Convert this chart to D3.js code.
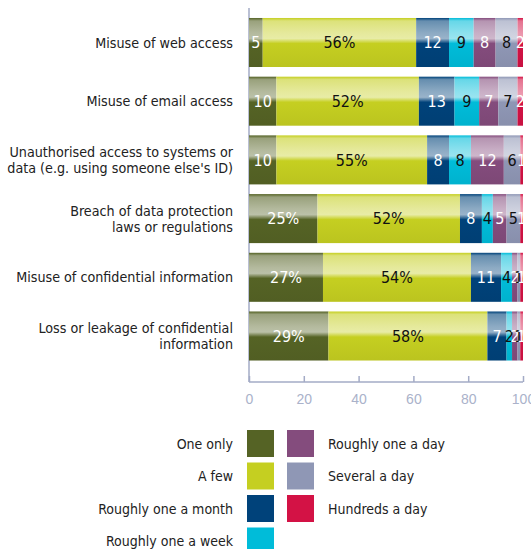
<!DOCTYPE html>
<html>
<head>
<meta charset="utf-8">
<script src="https://cdn.jsdelivr.net/npm/d3@7"></script>
<style>
  html, body { margin: 0; padding: 0; background: #fff; }
  svg { display: block; font-family: "Liberation Sans Narrow", "DejaVu Sans Condensed", "Liberation Sans", sans-serif; }
</style>
</head>
<body>
<div id="chart"></div>
<script>
/* Data */
const CATEGORIES = [
  ["Misuse of web access"],
  ["Misuse of email access"],
  ["Unauthorised access to systems or", "data (e.g. using someone else's ID)"],
  ["Breach of data protection", "laws or regulations"],
  ["Misuse of confidential information"],
  ["Loss or leakage of confidential", "information"]
]
const SERIES = ["One only", "A few", "Roughly one a month", "Roughly one a week", "Roughly one a day", "Several a day", "Hundreds a day"]
const ONE_ONLY = [5, 10, 10, 25, 27, 29]
const A_FEW = [56, 52, 55, 52, 54, 58]
const ONE_A_MONTH = [12, 13, 8, 8, 11, 7]
const ONE_A_WEEK = [9, 9, 8, 4, 4, 2]
const ONE_A_DAY = [8, 7, 12, 5, 2, 2]
const SEVERAL_A_DAY = [8, 7, 6, 5, 1, 1]
const HUNDREDS_A_DAY = [2, 2, 1, 1, 1, 1]
const X_TICKS = [0, 20, 40, 60, 80, 100]

/* Style constants */
const WIDTH = 531
const HEIGHT = 549
const X0 = 249
const X1 = 523
const AXIS_Y = 382
const COLORS = ["#556325", "#c5cf21", "#00427a", "#00bcd9", "#844c7d", "#8f97b5", "#d31245"]
const LABEL_COLORS = ["#fff", "#111", "#fff", "#111", "#fff", "#111", "#fff"]
const AXIS_COLOR = "#a3abc6"

const values = [ONE_ONLY, A_FEW, ONE_A_MONTH, ONE_A_WEEK, ONE_A_DAY, SEVERAL_A_DAY, HUNDREDS_A_DAY]
const rows = CATEGORIES.map((c, i) => {
  let row = {key: i}
  SERIES.forEach((s, j) => { row[s] = values[j][i] })
  return row
})

const svg = d3.select("#chart").append("svg")
  .attr("width", WIDTH)
  .attr("height", HEIGHT)

const x = d3.scaleLinear().domain([0, 100]).range([X0, X1])
const y = d3.scaleBand().domain(d3.range(CATEGORIES.length)).range([8.3, 370.2]).padding(0.165)

/* glossy gradients */
const defs = svg.append("defs")
COLORS.forEach((c, i) => {
  const light = d3.interpolateRgb(c, "#fff")
  const g = defs.append("linearGradient")
    .attr("id", "grad" + i)
    .attr("x1", 0).attr("y1", 0).attr("x2", 0).attr("y2", 1)
  const stops = [[0, c], [0.06, light(0.4)], [0.3, light(0.55)], [0.42, light(0.6)], [0.52, c], [1, d3.color(c).darker(0.15).toString()]]
  stops.forEach((s) => g.append("stop").attr("offset", s[0]).attr("stop-color", s[1]))
})

/* axes */
svg.append("line")
  .attr("x1", X0).attr("x2", X0)
  .attr("y1", 8).attr("y2", AXIS_Y)
  .attr("stroke", AXIS_COLOR).attr("stroke-width", 1.5)

const xAxis = d3.axisBottom(x).tickValues(X_TICKS).tickSize(-6).tickPadding(12)
const gx = svg.append("g")
  .attr("transform", "translate(0," + AXIS_Y + ")")
  .call(xAxis)
gx.select(".domain").attr("stroke", AXIS_COLOR).attr("stroke-width", 1.5).attr("d", "M" + X0 + ",0H" + X1)
gx.selectAll(".tick line").attr("stroke", AXIS_COLOR).attr("stroke-width", 1.5)
gx.selectAll(".tick text").attr("fill", "#aab2ca").attr("font-size", 14).attr("font-family", "inherit")

/* stacked bars */
const stack = d3.stack().keys(SERIES)(rows)
const layers = svg.append("g").selectAll("g")
  .data(stack)
  .join("g")
  .attr("fill", (d, i) => "url(#grad" + i + ")")

layers.selectAll("rect")
  .data((d) => d)
  .join("rect")
  .attr("x", (d) => x(d[0]))
  .attr("y", (d, i) => y(i))
  .attr("width", (d) => x(d[1]) - x(d[0]))
  .attr("height", y.bandwidth())

/* value labels */
stack.forEach((layer, j) => {
  svg.append("g").selectAll("text")
    .data(layer)
    .join("text")
    .attr("x", (d) => (x(d[0]) + x(d[1])) / 2)
    .attr("y", (d, i) => y(i) + y.bandwidth() / 2)
    .attr("dy", "0.36em")
    .attr("text-anchor", "middle")
    .attr("font-size", 16)
    .attr("fill", LABEL_COLORS[j])
    .text((d) => {
      const v = d[1] - d[0]
      return v >= 20 ? v + "%" : v
    })
})

/* category labels */
const cat = svg.append("g").selectAll("text")
  .data(CATEGORIES)
  .join("text")
  .attr("text-anchor", "end")
  .attr("font-size", 14.2)
  .attr("fill", "#222")
  .attr("x", 233)
  .attr("y", (d, i) => y(i) + y.bandwidth() / 2 - (d.length - 1) * 8)
cat.selectAll("tspan")
  .data((d) => d)
  .join("tspan")
  .attr("x", 233)
  .attr("dy", (d, k) => k === 0 ? "0.36em" : 16)
  .text((d) => d)

/* legend */
const LEG = {SIZE: 27, STEP: 32.5, TOP: 430, COL_X: [247, 287]}
const legendItems = SERIES.map((s, i) => ({name: s, color: COLORS[i], col: i < 4 ? 0 : 1, row: i < 4 ? i : i - 4}))
const leg = svg.append("g").selectAll("g")
  .data(legendItems)
  .join("g")
  .attr("transform", (d) => "translate(" + LEG.COL_X[d.col] + "," + (LEG.TOP + d.row * LEG.STEP) + ")")
leg.append("rect")
  .attr("width", LEG.SIZE).attr("height", LEG.SIZE)
  .attr("fill", (d) => d.color)
leg.append("text")
  .attr("x", (d) => d.col === 0 ? -14 : LEG.SIZE + 14)
  .attr("y", LEG.SIZE / 2)
  .attr("dy", "0.36em")
  .attr("text-anchor", (d) => d.col === 0 ? "end" : "start")
  .attr("font-size", 14)
  .attr("fill", "#222")
  .text((d) => d.name)
</script>
</body>
</html>
